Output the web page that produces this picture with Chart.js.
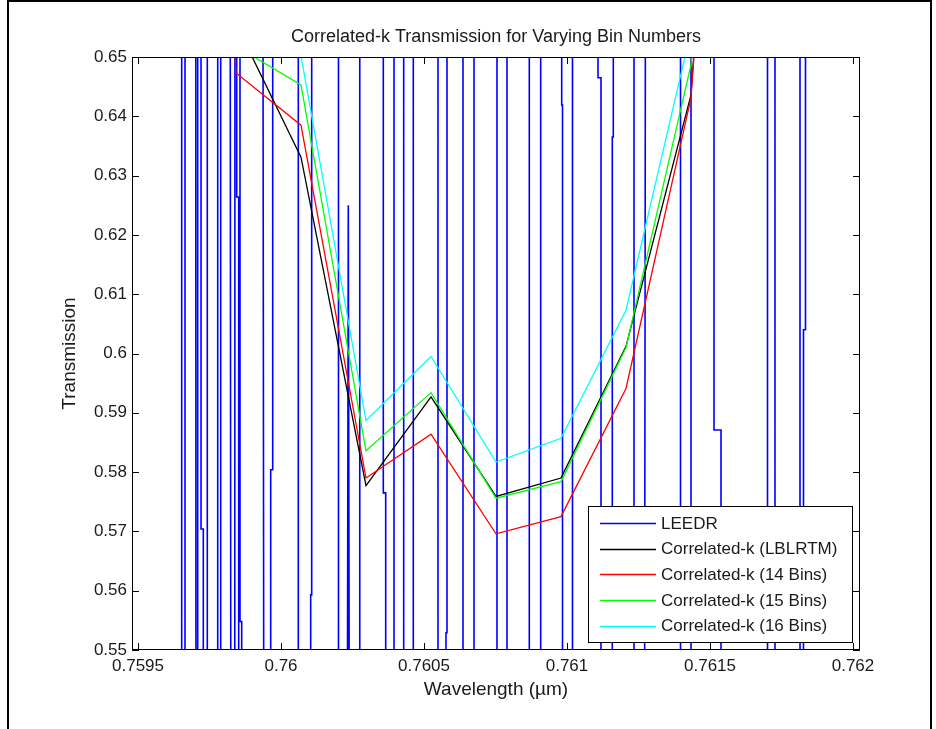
<!DOCTYPE html>
<html>
<head>
<meta charset="utf-8">
<script src="https://cdn.jsdelivr.net/npm/chart.js@4.4.0/dist/chart.umd.min.js"></script>
<style>
  html, body { margin: 0; padding: 0; background: #fff; }
  #wrap { position: relative; width: 936px; height: 729px; overflow: hidden; }
  #frame { position: absolute; left: 7px; top: 0; width: 921px; height: 760px; border: 2px solid #000; pointer-events: none; }
</style>
</head>
<body>
<div id="wrap">
  <canvas id="kChart" width="936" height="729"></canvas>
  <div id="frame"></div>
</div>
<script>
// axis ticks
const xTicks = [0.7595, 0.76, 0.7605, 0.761, 0.7615, 0.762];
const yTicks = [0.55, 0.56, 0.57, 0.58, 0.59, 0.6, 0.61, 0.62, 0.63, 0.64, 0.65];

// correlated-k bin centres (um) and transmissions
const kWavelength = [0.7596154, 0.7598427, 0.7600699, 0.7602972, 0.7605245, 0.7607517, 0.7609790, 0.7612063, 0.7614336, 0.7616608];
const lblrtm = [0.800, 0.6556, 0.6331, 0.5777, 0.5927, 0.5759, 0.5790, 0.6012, 0.6436, 0.800];
const bins14 = [0.830, 0.6473, 0.6385, 0.5790, 0.5864, 0.5696, 0.5725, 0.5941, 0.6431, 0.800];
const bins15 = [0.800, 0.6518, 0.6453, 0.5836, 0.5934, 0.5756, 0.5784, 0.6010, 0.6487, 0.800];
const bins16 = [0.800, 0.6650, 0.6502, 0.5887, 0.5995, 0.5817, 0.5857, 0.6073, 0.6544, 0.800];

// LEEDR line-by-line spectrum (only the crossings of the window are known)
const leedrWl = [
  0.7596528, 0.7596528, 0.7596643, 0.7596643, 0.7597017, 0.7597028, 0.7597080, 0.7597087,
  0.7597203, 0.7597203, 0.7597283, 0.7597283, 0.7597423, 0.7597423, 0.7597787, 0.7597787,
  0.7597892, 0.7597892, 0.7598217, 0.7598252, 0.7598381, 0.7598392,
  0.7598451, 0.7598451, 0.7598521, 0.7598521, 0.7598626, 0.7598626, 0.7598566, 0.7598566,
  0.7599360, 0.7599406, 0.7599640, 0.7599640, 0.7599710, 0.7599710, 0.7600605, 0.7600605,
  0.7601038, 0.7601038, 0.7601073, 0.7601073, 0.7602010, 0.7602010,
  0.7602308, 0.7602353, 0.7602402,
  0.7602738, 0.7602738, 0.7602762, 0.7602762, 0.7603577, 0.7603577, 0.7603661, 0.7603661,
  0.7603951, 0.7603951, 0.7604290, 0.7604290, 0.7604626, 0.7604626, 0.7605490, 0.7605490,
  0.7605769, 0.7605769, 0.7605804, 0.7605804, 0.7606364, 0.7606364, 0.7606748, 0.7606748,
  0.7607552, 0.7607552, 0.7607902, 0.7607902, 0.7608682, 0.7608682, 0.7609080, 0.7609080,
  0.7609815, 0.7609815, 0.7609843, 0.7609843, 0.7610192, 0.7610192,
  0.7611084, 0.7611084, 0.7611189, 0.7611189, 0.7611584, 0.7611584, 0.7611619, 0.7611619,
  0.7612343, 0.7612343, 0.7612703, 0.7612752, 0.7613969, 0.7613969, 0.7614336, 0.7614336,
  0.7615140, 0.7615140, 0.7615385, 0.7615385, 0.7617011, 0.7617011, 0.7617273, 0.7617273,
  0.7618147, 0.7618147, 0.7618339, 0.7618339, 0.7618269, 0.7618269
];
const leedrT = [
  0.7, 0.5, 0.5, 0.7, 0.7, 0.5, 0.5, 0.7,
  0.7, 0.5704, 0.5704, 0.5, 0.5, 0.7, 0.7, 0.5,
  0.5, 0.7, 0.7, 0.5, 0.5, 0.7,
  0.7, 0.6264, 0.6264, 0.5, 0.5, 0.5548, 0.5548, 0.7,
  0.7, 0.5, 0.5, 0.5804, 0.5804, 0.7, 0.7, 0.5,
  0.5, 0.5593, 0.5593, 0.7, 0.7, 0.5,
  0.5, 0.625, 0.5,
  0.5, 0.622, 0.622, 0.7, 0.7, 0.5765, 0.5765, 0.5,
  0.5, 0.7, 0.7, 0.5, 0.5, 0.7, 0.7, 0.5,
  0.5, 0.5529, 0.5529, 0.7, 0.7, 0.5, 0.5, 0.7,
  0.7, 0.5, 0.5, 0.7, 0.7, 0.5, 0.5, 0.7,
  0.7, 0.6419, 0.6419, 0.5, 0.5, 0.7,
  0.7, 0.6465, 0.6465, 0.5, 0.5, 0.6365, 0.6365, 0.7,
  0.7, 0.5, 0.5, 0.7, 0.7, 0.5, 0.5, 0.7,
  0.7, 0.5871, 0.5871, 0.5, 0.5, 0.7, 0.7, 0.5,
  0.5, 0.7, 0.7, 0.604, 0.604, 0.5
];

const FONT = "'Liberation Sans', Arial, sans-serif";
const TEXT = '#1a1a1a';

const toXY = (xs, ys) => xs.map((x, i) => ({ x: x, y: ys[i] }));

function series(label, xs, ys, color, width, order) {
  return {
    label: label,
    data: toXY(xs, ys),
    showLine: true,
    borderColor: color,
    backgroundColor: color,
    borderWidth: width,
    pointRadius: 0,
    pointHoverRadius: 0,
    tension: 0,
    fill: false,
    order: order
  };
}

// box, inward ticks on all four sides, and the legend inside the axes
const matlabAxes = {
  id: 'matlabAxes',
  afterDraw(chart) {
    const ctx = chart.ctx;
    const { left, right, top, bottom } = chart.chartArea;
    const xs = chart.scales.x, ys = chart.scales.y;
    ctx.save();
    ctx.strokeStyle = '#000';
    ctx.lineWidth = 1;
    ctx.strokeRect(left + 0.5, top + 0.5, right - left - 1, bottom - top - 1);
    ctx.beginPath();
    xTicks.forEach(v => {
      const px = Math.round(xs.getPixelForValue(v)) + 0.5;
      ctx.moveTo(px, bottom); ctx.lineTo(px, bottom - 7);
      ctx.moveTo(px, top); ctx.lineTo(px, top + 7);
    });
    yTicks.forEach(v => {
      const py = Math.round(ys.getPixelForValue(v)) + 0.5;
      ctx.moveTo(left, py); ctx.lineTo(left + 7, py);
      ctx.moveTo(right, py); ctx.lineTo(right - 7, py);
    });
    ctx.stroke();

    // legend
    const w = 264, h = 136;
    const lx = right - 8 - w, ly = bottom - 8 - h;
    ctx.fillStyle = '#fff';
    ctx.fillRect(lx, ly, w, h);
    ctx.strokeRect(Math.round(lx) + 0.5, Math.round(ly) + 0.5, w, h);
    ctx.font = '17px ' + FONT;
    ctx.textBaseline = 'middle';
    ctx.textAlign = 'left';
    chart.data.datasets.forEach((ds, i) => {
      const yy = ly + 17 + i * 25.7;
      ctx.strokeStyle = ds.borderColor;
      ctx.lineWidth = 1.3;
      ctx.beginPath();
      ctx.moveTo(lx + 12, Math.round(yy) + 0.5);
      ctx.lineTo(lx + 68, Math.round(yy) + 0.5);
      ctx.stroke();
      ctx.fillStyle = TEXT;
      ctx.fillText(ds.label, lx + 73, yy + 1);
    });
    ctx.restore();
  }
};

const k_data = {
  datasets: [
    series('LEEDR', leedrWl, leedrT, '#0000ff', 1.6, 5),
    series('Correlated-k (LBLRTM)', kWavelength, lblrtm, '#000000', 1.3, 4),
    series('Correlated-k (14 Bins)', kWavelength, bins14, '#ff0000', 1.3, 3),
    series('Correlated-k (15 Bins)', kWavelength, bins15, '#00ff00', 1.3, 2),
    series('Correlated-k (16 Bins)', kWavelength, bins16, '#00ffff', 1.3, 1)
  ]
};

const k_config = {
  type: 'scatter',
  data: k_data,
  options: {
    responsive: false,
    animation: false,
    events: [],
    layout: { padding: { left: 0, right: 76, top: 0, bottom: 0 } },
    plugins: {
      legend: { display: false },
      tooltip: { enabled: false },
      title: {
        display: true,
        fullSize: false,
        text: 'Correlated-k Transmission for Varying Bin Numbers',
        color: TEXT,
        font: { family: FONT, size: 18, weight: 'normal' },
        padding: { top: 26, bottom: 9.4 }
      }
    },
    scales: {
      x: {
        type: 'linear',
        min: 0.759479,
        max: 0.7620245,
        afterBuildTicks: s => { s.ticks = xTicks.map(v => ({ value: v })); },
        afterFit: s => { s.height = 79; },
        grid: { display: false, drawTicks: false },
        border: { display: false },
        ticks: {
          autoSkip: false,
          maxRotation: 0,
          padding: 6,
          color: TEXT,
          font: { family: FONT, size: 17 },
          callback: v => String(v)
        },
        title: {
          display: true,
          text: 'Wavelength (\u00b5m)',
          color: TEXT,
          font: { family: FONT, size: 19 },
          padding: { top: 0, bottom: 27.6 }
        }
      },
      y: {
        type: 'linear',
        min: 0.55,
        max: 0.65,
        afterBuildTicks: s => { s.ticks = yTicks.map(v => ({ value: v })); },
        afterFit: s => { s.width = 132; },
        grid: { display: false, drawTicks: false },
        border: { display: false },
        ticks: {
          autoSkip: false,
          padding: 5,
          color: TEXT,
          font: { family: FONT, size: 17 },
          callback: v => String(v)
        },
        title: {
          display: true,
          text: 'Transmission',
          color: TEXT,
          font: { family: FONT, size: 19 },
          padding: { top: 58.6, bottom: 0 }
        }
      }
    }
  },
  plugins: [matlabAxes]
};

const kChart = new Chart(document.getElementById('kChart'), k_config);
</script>
</body>
</html>
